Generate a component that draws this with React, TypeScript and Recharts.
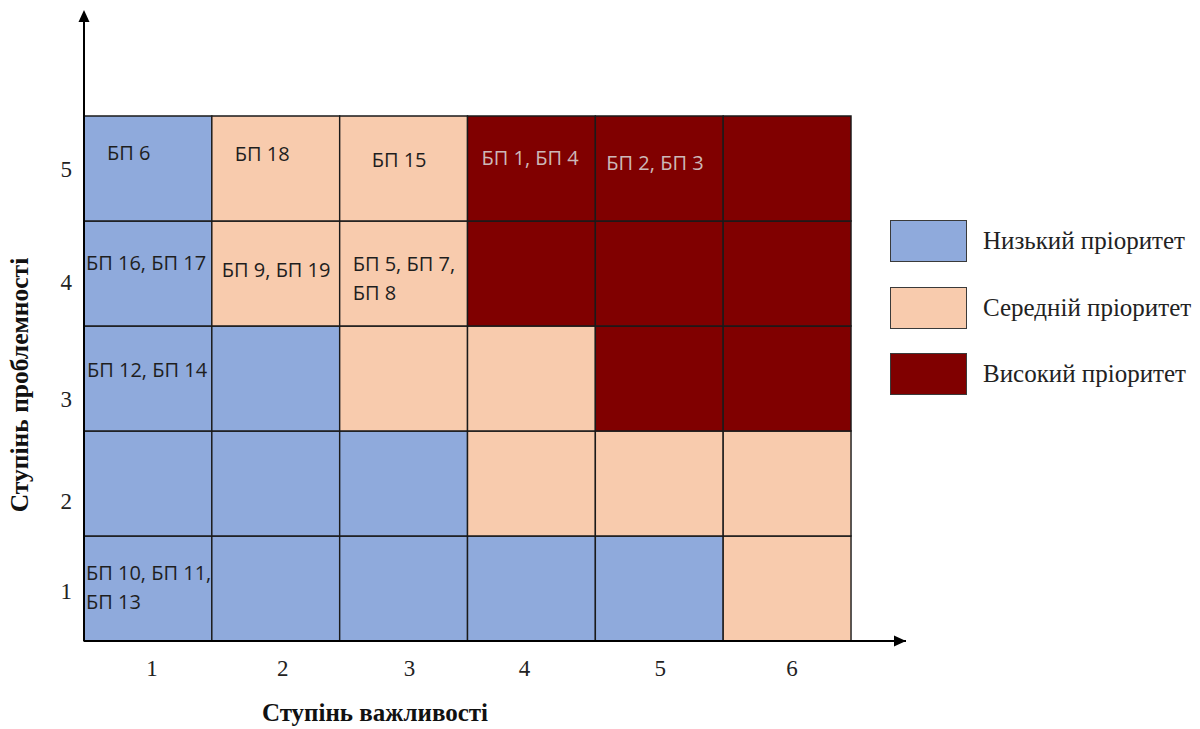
import React from 'react';
import { ScatterChart, Scatter, XAxis, YAxis, ReferenceArea, ReferenceDot, Legend } from 'recharts';

// ---- data ----
const importanceTicks = [1, 2, 3, 4, 5, 6];
const problemTicks = [1, 2, 3, 4, 5];
const priorityNames = ['Низький пріоритет', 'Середній пріоритет', 'Високий пріоритет'];
const priorityColors = ['#8FAADC', '#F8CBAD', '#800000'];
// priority level (0 low, 1 medium, 2 high) per importance column 1..6, one array per problem row
const row5 = [0, 1, 1, 2, 2, 2];
const row4 = [0, 1, 1, 2, 2, 2];
const row3 = [0, 0, 1, 1, 2, 2];
const row2 = [0, 0, 0, 1, 1, 1];
const row1 = [0, 0, 0, 0, 0, 1];
const priorityRows: Record<number, number[]> = { 5: row5, 4: row4, 3: row3, 2: row2, 1: row1 };
const cellLabels = [
  { x: 1, y: 5, lines: ['БП 6'] },
  { x: 2, y: 5, lines: ['БП 18'] },
  { x: 3, y: 5, lines: ['БП 15'] },
  { x: 4, y: 5, lines: ['БП 1, БП 4'] },
  { x: 5, y: 5, lines: ['БП 2, БП 3'] },
  { x: 1, y: 4, lines: ['БП 16, БП 17'] },
  { x: 2, y: 4, lines: ['БП 9, БП 19'] },
  { x: 3, y: 4, lines: ['БП 5, БП 7,', 'БП 8'] },
  { x: 1, y: 3, lines: ['БП 12, БП 14'] },
  { x: 1, y: 1, lines: ['БП 10, БП 11,', 'БП 13'] },
];
const xTitle = 'Ступінь важливості';
const yTitle = 'Ступінь проблемності';

// ---- layout / style constants ----
const W = 1200;
const H = 729;
const X_MAX = 6.93;
const Y_MAX = 6.49;
const labelNudge: Record<string, [number, number]> = {
  '1-5': [23, 44], '2-5': [23, 45], '3-5': [32, 51], '4-5': [14, 49], '5-5': [11, 54],
  '1-4': [2, 49], '2-4': [10, 56], '3-4': [13, 50], '1-3': [3, 51], '1-1': [2, 44],
};
const xTickNudge: Record<number, number> = { 1: 4, 2: 7, 3: 6, 4: -7, 5: 1, 6: 5 };
const yTickNudge: Record<number, number> = { 5: 1, 4: 9, 3: 21, 2: 18, 1: 3 };
const serif = '"Liberation Serif", "Times New Roman", serif';
const sans = '"Open Sans", "Noto Sans", sans-serif';

const cells = problemTicks.flatMap((y) =>
  importanceTicks.map((x, i) => {
    const level = priorityRows[y][i];
    const lab = cellLabels.find((c) => c.x === x && c.y === y);
    return { x, y, level, lines: lab ? lab.lines : null };
  })
);

const CellLabel = (props: any) => {
  const { viewBox, lines, nudge, color } = props;
  if (!viewBox || !lines) return null;
  const [dx, dy] = nudge || [4, 40];
  return (
    <text x={viewBox.x + dx} y={viewBox.y + dy} fill={color} fontFamily={sans} fontSize={20}>
      {lines.map((l: string, i: number) => (
        <tspan key={i} x={viewBox.x + dx} dy={i === 0 ? 0 : 29}>
          {l}
        </tspan>
      ))}
    </text>
  );
};

const XTick = (props: any) => {
  const { x, y, payload } = props;
  return (
    <text x={x + (xTickNudge[payload.value] || 0)} y={y + 35} textAnchor="middle" fontFamily={serif} fontSize={23} fill="#222">
      {payload.value}
    </text>
  );
};

const YTick = (props: any) => {
  const { x, y, payload } = props;
  return (
    <text x={x - 12} y={y + 8 + (yTickNudge[payload.value] || 0)} textAnchor="end" fontFamily={serif} fontSize={23} fill="#222">
      {payload.value}
    </text>
  );
};

const XTitleLabel = (props: any) => {
  const { viewBox } = props;
  if (!viewBox) return null;
  return (
    <text x={viewBox.x + 291} y={viewBox.y + 80} textAnchor="middle" fontFamily={serif} fontSize={25} fontWeight="bold" fill="#111">
      {xTitle}
    </text>
  );
};

const YTitleLabel = (props: any) => {
  const { viewBox } = props;
  if (!viewBox) return null;
  const cx = 28;
  const cy = viewBox.y + 373;
  return (
    <text x={cx} y={cy} textAnchor="middle" fontFamily={serif} fontSize={25.5} fontWeight="bold" fill="#111" transform={`rotate(-90 ${cx} ${cy})`}>
      {yTitle}
    </text>
  );
};

const ArrowRight = (props: any) => {
  const { cx, cy } = props;
  return <polygon points={`${cx},${cy} ${cx - 12},${cy - 5.5} ${cx - 12},${cy + 5.5}`} fill="#000" />;
};
const ArrowUp = (props: any) => {
  const { cx, cy } = props;
  return <polygon points={`${cx},${cy - 2} ${cx - 5.5},${cy + 10} ${cx + 5.5},${cy + 10}`} fill="#000" />;
};

const LegendContent = () => (
  <div style={{ display: 'flex', flexDirection: 'column' }}>
    {priorityNames.map((name, i) => (
      <div key={name} style={{ display: 'flex', alignItems: 'center', height: 42, marginBottom: 24.5 }}>
        <div
          style={{
            width: 75,
            height: 40,
            background: priorityColors[i],
            border: '1.5px solid #3a3a3a',
            flex: 'none',
          }}
        />
        <span style={{ marginLeft: 16, fontFamily: serif, fontSize: 25, color: '#222', whiteSpace: 'nowrap', lineHeight: '42px' }}>{name}</span>
      </div>
    ))}
  </div>
);

export default function App() {
  return (
    <div style={{ position: 'absolute', left: 0, top: 0, width: W, height: H, background: '#fff' }}>
      <ScatterChart width={W} height={H} margin={{ top: 12, right: 294, bottom: 0, left: 0 }}>
        <XAxis
          type="number"
          dataKey="x"
          domain={[0.5, X_MAX]}
          allowDataOverflow
          ticks={importanceTicks}
          height={88}
          axisLine={{ stroke: '#000', strokeWidth: 2 }}
          tickLine={false}
          tickSize={0}
          tickMargin={0}
          tick={<XTick />}
          label={XTitleLabel}
        />
        <YAxis
          type="number"
          dataKey="y"
          domain={[0.5, Y_MAX]}
          allowDataOverflow
          ticks={problemTicks}
          width={84}
          axisLine={{ stroke: '#000', strokeWidth: 2 }}
          tickLine={false}
          tickSize={0}
          tickMargin={0}
          tick={<YTick />}
          label={YTitleLabel}
        />
        {cells.map((c) => {
          const key = `${c.x}-${c.y}`;
          return (
            <ReferenceArea
              key={key}
              x1={c.x - 0.5}
              x2={c.x + 0.5}
              y1={c.y - 0.5}
              y2={c.y + 0.5}
              fill={priorityColors[c.level]}
              fillOpacity={1}
              stroke="#1a1a1a"
              strokeWidth={1.4}
              label={
                c.lines
                  ? (p: any) => (
                      <CellLabel
                        {...p}
                        lines={c.lines}
                        nudge={labelNudge[key]}
                        color={c.level === 2 ? '#cdb8b8' : '#1e1e1e'}
                      />
                    )
                  : undefined
              }
            />
          );
        })}
        <Scatter data={cells} isAnimationActive={false} shape={() => <g />} />
        <ReferenceDot x={X_MAX} y={0.5} ifOverflow="visible" shape={ArrowRight} />
        <ReferenceDot x={0.5} y={Y_MAX} ifOverflow="visible" shape={ArrowUp} />
        <Legend
          layout="horizontal"
          verticalAlign="middle"
          align="center"
          content={LegendContent}
          wrapperStyle={{ left: 890, top: 220, width: 310 }}
        />
      </ScatterChart>
    </div>
  );
}
